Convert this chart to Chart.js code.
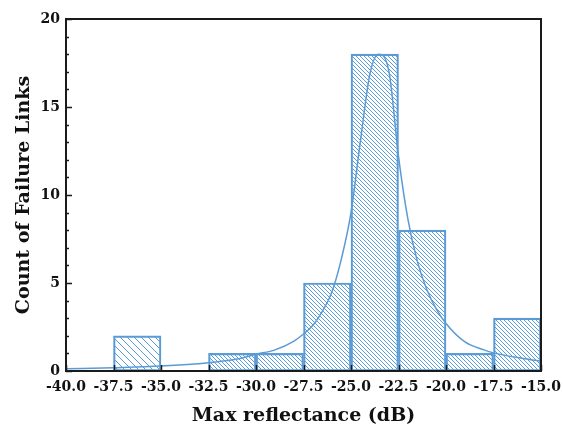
<!DOCTYPE html>
<html>
<head>
<meta charset="utf-8">
<script src="https://cdn.jsdelivr.net/npm/chart.js@4/dist/chart.umd.min.js"></script>
<style>
  html, body { margin: 0; padding: 0; background: #fff; }
  #wrap { width: 563px; height: 427px; }
</style>
</head>
<body>
<div id="wrap"><canvas id="histChart"></canvas></div>
<script>
// histogram bins (centre of each 2.5 dB bin) and counts
var binCenters = [-38.75, -36.25, -33.75, -31.25, -28.75, -26.25, -23.75, -21.25, -18.75, -16.25];
var binCounts  = [0, 2, 0, 1, 1, 5, 18, 8, 1, 3];

// fitted peak curve, read point by point
var fitX = [-40, -37.5, -35, -32.5, -31, -30, -29, -28, -27.5, -27, -26.5, -26, -25.5, -25, -24.5, -24, -23.55,
            -23, -22.5, -22, -21.5, -21, -20.5, -20, -19, -18, -17.5, -16, -15];
var fitY = [0.13, 0.19, 0.28, 0.47, 0.68, 0.95, 1.2, 1.7, 2.1, 2.6, 3.4, 4.5, 6.4, 9.0, 13.1, 16.9, 18.0,
            17.0, 12.2, 8.6, 6.2, 4.6, 3.5, 2.7, 1.65, 1.2, 1.03, 0.72, 0.55];

var xTicks = [-40, -37.5, -35, -32.5, -30, -27.5, -25, -22.5, -20, -17.5, -15];
var yTicks = [0, 5, 10, 15, 20];

var blue = '#5b9bd5';
var font = { family: 'DejaVu Serif', weight: 'bold', size: 14 };
var titleFont = { family: 'DejaVu Serif', weight: 'bold', size: 19 };

function hatch(step) {
    var c = document.createElement('canvas');
    c.width = step; c.height = step;
    var g = c.getContext('2d');
    g.strokeStyle = blue;
    g.lineWidth = 1;
    g.beginPath();
    g.moveTo(-1, -1); g.lineTo(step + 1, step + 1);
    g.moveTo(-1, step - 1); g.lineTo(1, step + 1);
    g.moveTo(step - 1, -1); g.lineTo(step + 1, 1);
    g.stroke();
    return document.getElementById('histChart').getContext('2d').createPattern(c, 'repeat');
}

var hatchSteps = [4, 7, 4, 4, 4, 4, 4, 4, 4, 4];
var fills = hatchSteps.map(hatch);

// frame and inward ticks
var framePlugin = {
    id: 'frame',
    afterDatasetsDraw: function (chart) {
        var ctx = chart.ctx, a = chart.chartArea;
        var xs = chart.scales.x, ys = chart.scales.y;
        ctx.save();
        ctx.strokeStyle = '#1a1a1a';
        ctx.lineWidth = 1.5;
        ctx.beginPath();
        for (var v = 0; v <= 20; v++) {
            var py = Math.round(ys.getPixelForValue(v)) + 0.5;
            var len = v % 5 === 0 ? 6 : 3;
            ctx.moveTo(a.left, py); ctx.lineTo(a.left + len, py);
        }
        xTicks.forEach(function (t) {
            var px = Math.round(xs.getPixelForValue(t)) + 0.5;
            ctx.moveTo(px, a.bottom); ctx.lineTo(px, a.bottom - 6);
        });
        ctx.stroke();
        ctx.lineWidth = 2;
        ctx.strokeRect(a.left, a.top, a.right - a.left, a.bottom - a.top);
        ctx.restore();
    }
};

new Chart(document.getElementById('histChart'), {
    type: 'bar',
    data: {
        datasets: [
            {
                type: 'line',
                data: fitX.map(function (x, i) { return { x: x, y: fitY[i] }; }),
                borderColor: blue,
                borderWidth: 1.5,
                pointRadius: 0,
                cubicInterpolationMode: 'monotone',
                fill: false,
                order: 0
            },
            {
                type: 'bar',
                data: binCenters.map(function (x, i) { return { x: x, y: binCounts[i] || null }; }),
                backgroundColor: fills,
                borderColor: blue,
                borderWidth: 1.5,
                borderSkipped: false,
                barPercentage: 1,
                categoryPercentage: 1,
                order: 1
            }
        ]
    },
    options: {
        responsive: true,
        maintainAspectRatio: false,
        animation: false,
        layout: { padding: { top: 19, right: 22, left: 0, bottom: 0 } },
        plugins: { legend: { display: false }, tooltip: { enabled: false } },
        scales: {
            x: {
                type: 'linear',
                min: -40, max: -15,
                offset: false,
                grid: { display: false, drawTicks: false },
                border: { display: false },
                afterBuildTicks: function (s) { s.ticks = xTicks.map(function (v) { return { value: v }; }); },
                afterFit: function (s) { s.height = 56; s.paddingLeft = 0; s.paddingRight = 0; },
                ticks: {
                    autoSkip: false, maxRotation: 0, padding: 8,
                    color: '#111', font: font,
                    callback: function (v) { return v.toFixed(1); }
                },
                title: {
                    display: true, text: 'Max reflectance (dB)', color: '#111',
                    font: titleFont,
                    padding: { top: 3, bottom: 0 }
                }
            },
            y: {
                min: 0, max: 20,
                grid: { display: false, drawTicks: false },
                border: { display: false },
                afterBuildTicks: function (s) { s.ticks = yTicks.map(function (v) { return { value: v }; }); },
                afterFit: function (s) { s.width = 66; s.paddingTop = 0; s.paddingBottom = 0; },
                ticks: { padding: 6, color: '#111', font: font },
                title: {
                    display: true, text: 'Count of Failure Links', color: '#111',
                    font: titleFont,
                    padding: { top: 13, bottom: 0 }
                }
            }
        }
    },
    plugins: [framePlugin]
});
</script>
</body>
</html>
